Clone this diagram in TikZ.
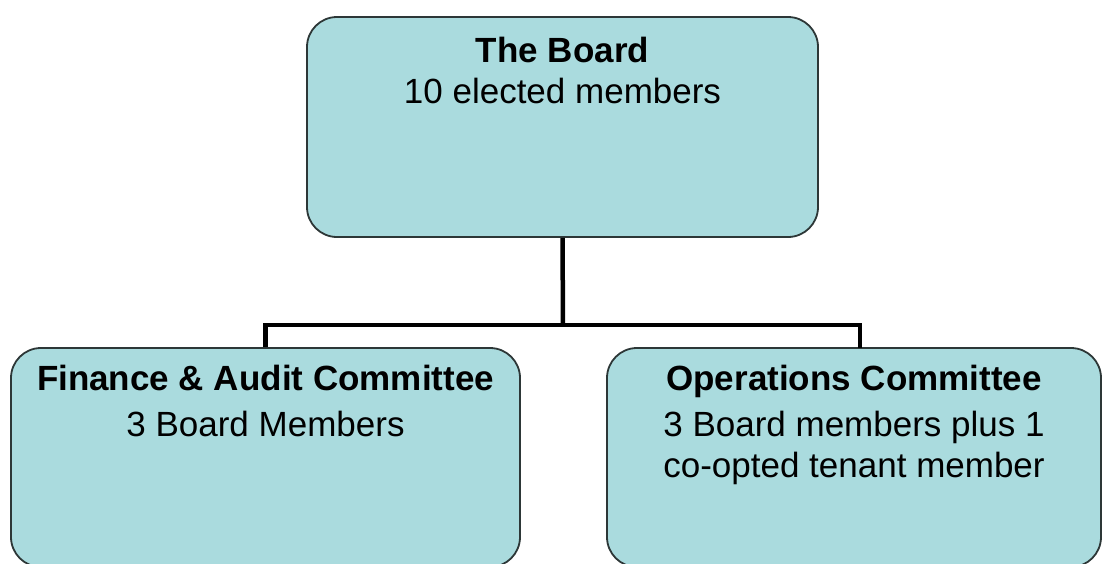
\documentclass[tikz,border=0pt]{standalone}
\usepackage{fontspec}
\setmainfont{Liberation Sans}
\definecolor{boxfill}{RGB}{170,219,222}
\definecolor{boxline}{RGB}{45,55,55}
\begin{document}
\begin{tikzpicture}[x=1pt,y=-1pt,
  orgbox/.style={rectangle, draw=boxline, line width=1.8pt, fill=boxfill,
    rounded corners=30pt, inner sep=0pt},
  lbl/.style={align=center, inner sep=0pt, anchor=north,
    font=\fontsize{35}{41}\selectfont},
  conn/.style={draw=black, line width=4.5pt, line join=miter}]
  % page area
  \clip (0,0) rectangle (1105,563);
  \fill[white] (0,0) rectangle (1105,563);

  % boxes
  \node[orgbox, minimum width=511pt, minimum height=220pt] (board) at (562.5,127) {};
  \node[orgbox, minimum width=509pt, minimum height=219pt] (fin) at (265.5,457.5) {};
  \node[orgbox, minimum width=494pt, minimum height=219pt] (ops) at (854,457.5) {};

  % connector junctions
  \coordinate (hub) at (563,325);
  \coordinate (opsin) at (860,348);

  % connectors
  \draw[conn] (board.south) -- (hub);
  \draw[conn] (fin.north) -- (fin.north |- hub) -- (opsin |- hub) -- (opsin);

  % labels
  \node[lbl, yshift=-21pt] (boardtxt) at (board.north) {\textbf{The Board}\\10 elected members};
  \node[lbl, yshift=-18pt] (fintxt) at (fin.north) {\textbf{Finance \& Audit Committee}\\[5pt]3 Board Members};
  \node[lbl, yshift=-18pt] (opstxt) at (ops.north) {\textbf{Operations Committee}\\[5pt]3 Board members plus 1\\co-opted tenant member};
\end{tikzpicture}
\end{document}
